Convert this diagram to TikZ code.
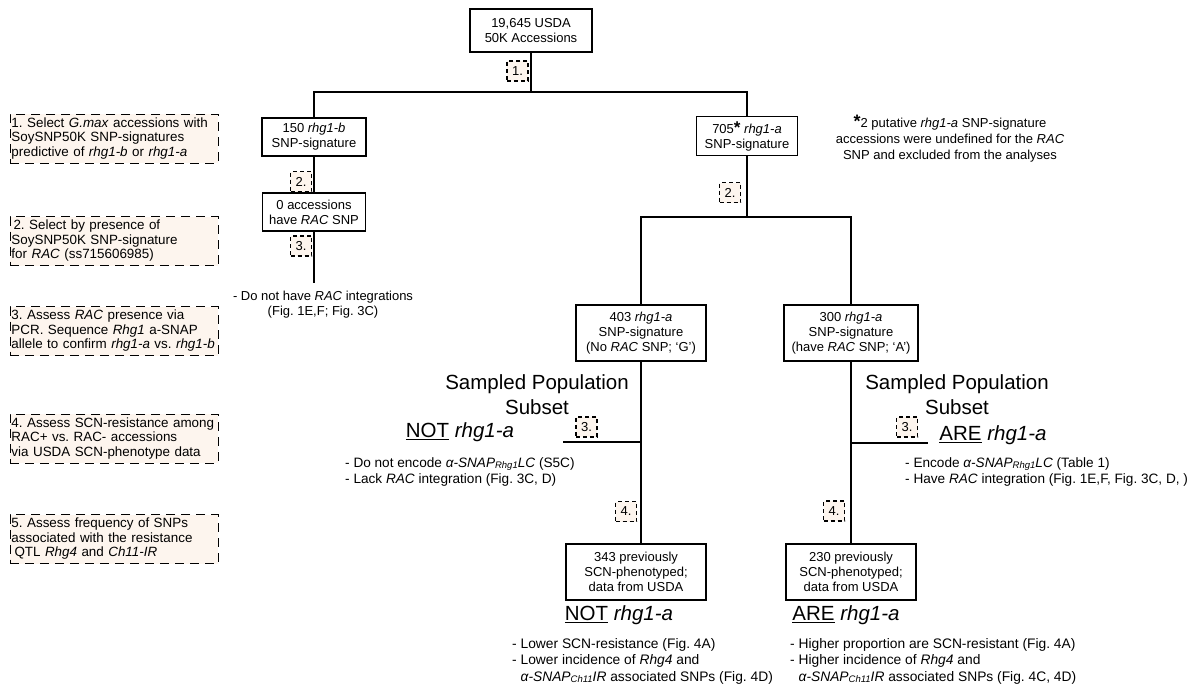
\documentclass[tikz,border=0pt]{standalone}
\usepackage{fontspec}
\setmainfont{Liberation Sans}
\definecolor{peach}{RGB}{253,245,238}
\newcommand{\subtxt}[1]{{\fontsize{9.5}{9}\selectfont\raisebox{-1pt}{#1}}}
\begin{document}
\frenchspacing
\begin{tikzpicture}[x=1pt,y=-1pt,
 every node/.style={font=\fontsize{13}{15}\selectfont},
 box/.style={draw, line width=1.3pt, fill=white, inner sep=0pt, align=center},
 stepbox/.style={draw, line width=1.1pt, dash pattern=on 4pt off 3pt, fill=peach, minimum width=21pt, minimum height=20pt, inner sep=0pt},
 notebox/.style={draw, line width=1pt, dash pattern=on 9pt off 6pt, fill=peach, text width=205pt, minimum width=208pt, minimum height=49pt, inner sep=1.5pt, align=left, font=\fontsize{13.4}{14.5}\selectfont},
 big/.style={inner sep=0pt, font=\fontsize{20.5}{25}\selectfont, align=center},
 txt/.style={inner sep=0pt, align=left, font=\fontsize{13.6}{16}\selectfont},
 conn/.style={line width=1.3pt}
]
\useasboundingbox (0,0) rectangle (1193,686);

% main boxes
\node[box, minimum width=122pt, minimum height=43pt] (top) at (531,30.5) {19,645 USDA\\50K Accessions};
\node[box, minimum width=104pt, minimum height=38pt] (b150) at (314,137) {150 \textit{rhg1-b}\\SNP-signature};
\node[box, minimum width=103pt, minimum height=38pt] (b0) at (314,212) {0 accessions\\have \textit{RAC} SNP};
\node[box, minimum width=101pt, minimum height=39pt] (b705) at (747,136) {705{\fontsize{17}{15}\selectfont\bfseries *} \textit{rhg1-a}\\SNP-signature};
\node[box, minimum width=130pt, minimum height=56pt] (b403) at (641,333) {403 \textit{rhg1-a}\\SNP-signature\\(No \textit{RAC} SNP; ‘G’)};
\node[box, minimum width=134pt, minimum height=56pt] (b300) at (851,333) {300 \textit{rhg1-a}\\SNP-signature\\(have \textit{RAC} SNP; ‘A’)};
\node[box, minimum width=140pt, minimum height=56pt] (b343) at (636,572) {343 previously\\SCN-phenotyped;\\data from USDA};
\node[box, minimum width=130pt, minimum height=56pt] (b230) at (851,572) {230 previously\\SCN-phenotyped;\\data from USDA};

% junctions
\coordinate (j1) at (531,92);
\coordinate (j2) at (747,217);
\coordinate (e0) at (314,283);
\coordinate (jl) at (641,442);
\coordinate (el) at (563,442);
\coordinate (jr) at (851,443);
\coordinate (er) at (928,443);

% connectors
\draw[conn] (top.south) -- (j1);
\draw[conn] (b150.north) |- (j1) -| (b705.north);
\draw[conn] (b150.south) -- (b0.north);
\draw[conn] (b0.south) -- (e0);
\draw[conn] (b705.south) -- (j2);
\draw[conn] (b403.north) |- (j2) -| (b300.north);
\draw[conn] (b403.south) -- (b403.south |- b343.north);
\draw[conn] (jl) -- (el);
\draw[conn] (b300.south) -- (b230.north);
\draw[conn] (jr) -- (er);

% step labels
\node[stepbox] (s1) at (517.5,71) {1.};
\node[stepbox] (s2a) at (301,181.5) {2.};
\node[stepbox] (s3a) at (301,246) {3.};
\node[stepbox] (s2b) at (730,192.5) {2.};
\node[stepbox] (s3l) at (586.5,427) {3.};
\node[stepbox] (s3r) at (907,427) {3.};
\node[stepbox] (s4l) at (626,511.5) {4.};
\node[stepbox] (s4r) at (834,511) {4.};

% notes on the left
\node[notebox] (n1) at (114,138.5) {1. Select \textit{G.max} accessions with\\SoySNP50K SNP-signatures\\predictive of \textit{rhg1-b} or \textit{rhg1-a}};
\node[notebox] (n2) at (114,241) {\hspace{2pt}2. Select by presence of\\SoySNP50K SNP-signature\\for \textit{RAC} (ss715606985)};
\node[notebox] (n3) at (114,331) {3. Assess \textit{RAC} presence via\\PCR. Sequence \textit{Rhg1} a-SNAP\\allele to confirm \textit{rhg1-a} vs. \textit{rhg1-b}};
\node[notebox] (n4) at (114,438.5) {4. Assess SCN-resistance among\\RAC+ vs. RAC- accessions\\via USDA SCN-phenotype data};
\node[notebox] (n5) at (114,539) {5. Assess frequency of SNPs\\associated with the resistance\\\hspace{3pt}QTL \textit{Rhg4} and \textit{Ch11-IR}};

% star note
\node[inner sep=0pt, align=center, font=\fontsize{13}{16}\selectfont] (star) at (950,139) {{\fontsize{18}{16}\selectfont\bfseries *}2 putative \textit{rhg1-a} SNP-signature\\accessions were undefined for the \textit{RAC}\\SNP and excluded from the analyses};

% left branch texts
\node[inner sep=0pt, align=center] (t0) at (323,305) {- Do not have \textit{RAC} integrations\\(Fig. 1E,F; Fig. 3C)};

\node[big] (spl) at (537,395) {Sampled Population\\Subset};
\node[big] (notl) at (460,432) {\underline{NOT} \textit{rhg1-a}};
\node[txt, anchor=west] (bl) at (345,472) {- Do not encode \textit{α-SNAP\subtxt{Rhg1}LC} (S5C)\\- Lack \textit{RAC} integration (Fig. 3C, D)};

\node[big] (spr) at (957,395) {Sampled Population\\Subset};
\node[big] (arer) at (993,435) {\underline{ARE} \textit{rhg1-a}};
\node[txt, anchor=west] (br) at (905,472) {- Encode \textit{α-SNAP\subtxt{Rhg1}LC} (Table 1)\\- Have \textit{RAC} integration (Fig. 1E,F, Fig. 3C, D, )};

% bottom texts
\node[big] (notb) at (619,615) {\underline{NOT} \textit{rhg1-a}};
\node[big] (areb) at (846,615) {\underline{ARE} \textit{rhg1-a}};
\node[txt, anchor=west, font=\fontsize{13.8}{16.5}\selectfont] (bbl) at (512,661) {- Lower SCN-resistance (Fig. 4A)\\- Lower incidence of \textit{Rhg4} and\\\phantom{- }\textit{α-SNAP\subtxt{Ch11}IR} associated SNPs (Fig. 4D)};
\node[txt, anchor=west, font=\fontsize{13.8}{16.5}\selectfont] (bbr) at (790,661) {- Higher proportion are SCN-resistant (Fig. 4A)\\- Higher incidence of \textit{Rhg4} and\\\phantom{- }\textit{α-SNAP\subtxt{Ch11}IR} associated SNPs (Fig. 4C, 4D)};
\end{tikzpicture}
\end{document}
